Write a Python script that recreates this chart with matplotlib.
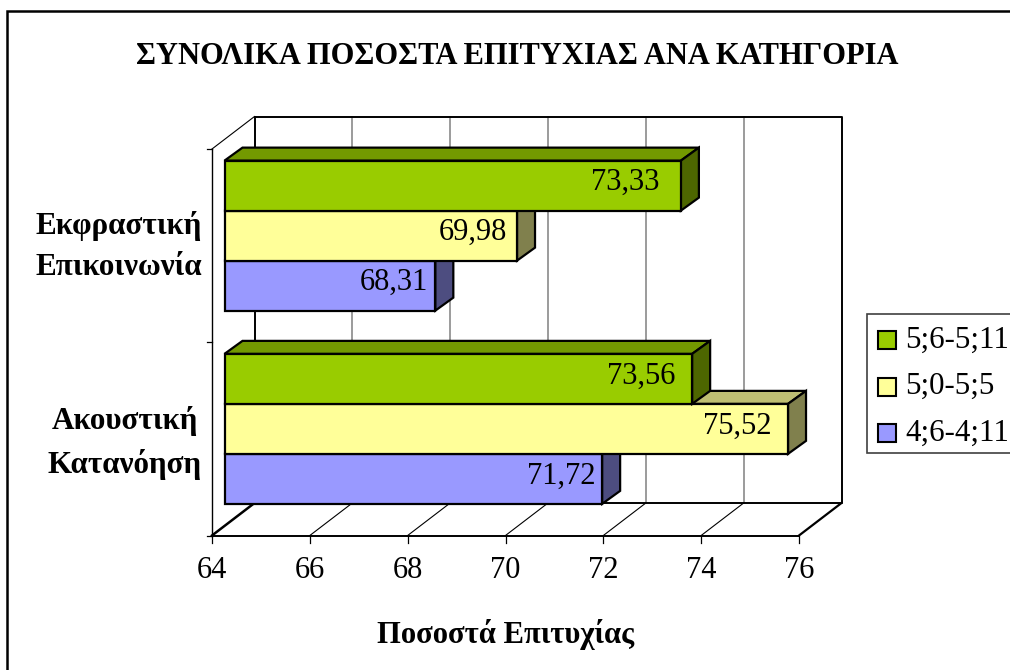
import matplotlib
matplotlib.use("Agg")
import matplotlib.pyplot as plt
from matplotlib.patches import Polygon, Rectangle
from matplotlib.lines import Line2D

plt.rcParams['font.family'] = ['Liberation Serif', 'DejaVu Serif']

title = "ΣΥΝΟΛΙΚΑ ΠΟΣΟΣΤΑ ΕΠΙΤΥΧΙΑΣ ΑΝΑ ΚΑΤΗΓΟΡΙΑ"
xlabel = "Ποσοστά Επιτυχίας"
categories = ["Ακουστική\nΚατανόηση", "Εκφραστική\nΕπικοινωνία"]
series_names = ["4;6-4;11", "5;0-5;5", "5;6-5;11"]
values_46 = [71.72, 68.31]
values_50 = [75.52, 69.98]
values_56 = [73.56, 73.33]
series_values = [values_46, values_50, values_56]
front_colors = ["#9999FF", "#FFFF99", "#99CC00"]
side_colors = ["#4D4D80", "#80804D", "#4D6600"]
top_colors = ["#7373BF", "#BFBF73", "#739900"]
xticks = [64, 66, 68, 70, 72, 74, 76]

W, H = 1010, 670
fig = plt.figure(figsize=(W / 100, H / 100), dpi=100)
X0, X1, YT, YB = 212, 799, 149, 535.5
ax = fig.add_axes([X0 / W, 1 - YB / H, (X1 - X0) / W, (YB - YT) / H])
ax.set_xlim(64, 76)
ax.set_ylim(0, 2)
ax.axis("off")
pxx = (X1 - X0) / 12
pxy = (YB - YT) / 2
DX, DY = 42.5 / pxx, 32.5 / pxy       # full chart depth
BX, BY = 12.5 / pxx, 10 / pxy         # bar front offset
TX, TY = 18 / pxx, 13 / pxy           # bar depth
BH = 50 / pxy
label_gap = {(0, 0): 7, (0, 1): 17, (0, 2): 17, (1, 0): 7, (1, 1): 10, (1, 2): 21}
cat_x = [125, 118.5]
cat_dy = [-4, -1]
EDGE = 1.6


def line(xs, ys, c="black", lw=1.2, z=1):
    ax.add_line(Line2D(xs, ys, color=c, lw=lw, zorder=z, clip_on=False,
                       solid_capstyle="projecting"))


# walls and floor
for t in xticks[1:-1]:
    line([t + DX, t + DX], [DY, 2 + DY], c="#808080", lw=1.1)
    line([t, t + DX], [0, DY], lw=0.8)
line([64 + DX, 76 + DX, 76 + DX, 64 + DX, 64 + DX], [2 + DY, 2 + DY, DY, DY, 2 + DY], lw=1.4)
line([64, 64 + DX], [2, 2 + DY], lw=0.8)
line([64, 64], [0, 2], lw=1.0)
line([64, 76], [0, 0], lw=1.4)
line([76, 76 + DX], [0, DY], lw=1.6)
line([64, 64 + DX], [0, DY], lw=1.8)
for t in xticks:
    line([t, t], [0, -7 / pxy], lw=0.9)
    ax.text(t, -35 / pxy, str(t), ha="center", va="center", fontsize=22)
for y in [0, 1, 2]:
    line([64 - 5 / pxx, 64], [y, y], lw=0.9)

# bars
for c, name in enumerate(categories):
    cy = c + 0.5 + BY
    ax.text(64 + (cat_x[c] - X0) / pxx, c + 0.5 + cat_dy[c] / pxy, name, ha="center", va="center",
            fontsize=22.4, fontweight="bold", linespacing=1.55)
    for s, vals in enumerate(series_values):
        v = vals[c]
        y0 = cy + (s - 1.5) * BH
        y1 = y0 + BH
        x0 = 64 + BX
        xe = v + BX
        z = 3 + s * 0.1
        ax.add_patch(Polygon([(x0, y1), (x0 + TX, y1 + TY), (xe + TX, y1 + TY), (xe, y1)],
                             fc=top_colors[s], ec="black", lw=EDGE, zorder=z, clip_on=False))
        ax.add_patch(Polygon([(xe, y0), (xe + TX, y0 + TY), (xe + TX, y1 + TY), (xe, y1)],
                             fc=side_colors[s], ec="black", lw=EDGE, zorder=z, clip_on=False))
        ax.barh(y0 + BH / 2, v - 64, height=BH, left=x0, color=front_colors[s],
                edgecolor="black", linewidth=EDGE, zorder=z + 0.01, clip_on=False)
        ax.text(xe - label_gap[(c, s)] / pxx, y0 + BH / 2 + 3 / pxy,
                f"{v:.2f}".replace(".", ","), ha="right",
                va="center", fontsize=22, zorder=5)

# frame behind the plot
ov = fig.add_axes([0, 0, 1, 1], facecolor="none", zorder=-1)
ov.set_xlim(0, W)
ov.set_ylim(H, 0)
ov.axis("off")
ov.add_patch(Rectangle((7, 11), W + 20, H + 20, fc="white", ec="black", lw=1.8, clip_on=False))
fig.text(517 / W, 1 - 56 / H, title, ha="center", va="center", fontsize=22, fontweight="bold")
fig.text(506 / W, 1 - 634 / H, xlabel, ha="center", va="center", fontsize=22.1, fontweight="bold")

# legend
lg = fig.add_axes([0, 0, 1, 1], facecolor="none", zorder=6)
lg.set_xlim(0, W)
lg.set_ylim(H, 0)
lg.axis("off")
lg.add_patch(Rectangle((867, 314), W, 139, fc="white", ec="#404040", lw=1.2))
for i, s in enumerate([2, 1, 0]):
    sy = 331 + i * 46.5
    lg.add_patch(Rectangle((878, sy), 18, 18, fc=front_colors[s], ec="black", lw=1.5))
    lg.text(905, sy + 9, series_names[s], ha="left", va="center", fontsize=22.3)

fig.savefig("out.png", dpi=100)
